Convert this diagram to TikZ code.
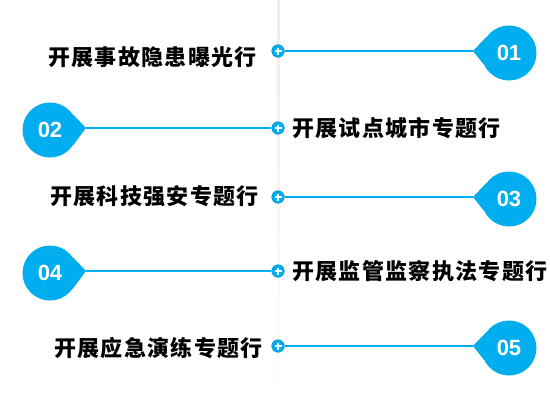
\documentclass[tikz,border=0pt]{standalone}
\usepackage{fontspec}
\setmainfont{Liberation Sans}
\newfontfamily\cjk{Noto Sans CJK SC}[LetterSpace=6]
\usepackage{tikz}
\usetikzlibrary{calc}
\definecolor{SkyCyan}{RGB}{0,174,239}

\begin{document}
\begin{tikzpicture}[x=1pt,y=-1pt,
  num/.style={circle,fill=SkyCyan,minimum size=55pt,inner sep=0pt,
              text=white,font=\fontsize{22}{22}\selectfont\bfseries},
  item/.style={font=\cjk\fontsize{22}{22}\selectfont\bfseries,inner sep=0pt},
  dot/.style={circle,fill=SkyCyan,draw=SkyCyan!85!black,line width=0.6pt,
              minimum size=12.5pt,inner sep=0pt,
              path picture={\draw[white,line width=1.6pt]
                ($(path picture bounding box.center)+(-3.5,0)$) -- ($(path picture bounding box.center)+(3.5,0)$)
                ($(path picture bounding box.center)+(0,-3.5)$) -- ($(path picture bounding box.center)+(0,3.5)$);}},
  link/.style={SkyCyan,line width=1.6pt},
]
\fill[white] (0,0) rectangle (550,413);
\useasboundingbox (0,0) rectangle (550,413);

% centre line
\shade[top color=gray!15,middle color=gray!85!black,bottom color=white] (277,0) rectangle (279.5,413);

% numbered circles and their tips
\coordinate (k1) at (473,51);
\coordinate (k2) at (86,128);
\coordinate (k3) at (473,197);
\coordinate (k4) at (86,271);
\coordinate (k5) at (473,346);

\node[dot] (d1) at (278,51) {};
\node[dot] (d2) at (278,128) {};
\node[dot] (d3) at (278,197) {};
\node[dot] (d4) at (278,271) {};
\node[dot] (d5) at (278,346) {};

\draw[link] (d1) -- (k1);
\draw[link] (k2) -- (d2);
\draw[link] (d3) -- (k3);
\draw[link] (k4) -- (d4);
\draw[link] (d5) -- (k5);

\node[num] (c1) at (509,53) {01};
\node[num] (c2) at (50,130) {02};
\node[num] (c3) at (509,199) {03};
\node[num] (c4) at (50,273) {04};
\node[num] (c5) at (509,348) {05};

\fill[SkyCyan] (c1.145) -- (k1) -- (c1.205) -- cycle;
\fill[SkyCyan] (c2.35) -- (k2) -- (c2.325) -- cycle;
\fill[SkyCyan] (c3.145) -- (k3) -- (c3.205) -- cycle;
\fill[SkyCyan] (c4.35) -- (k4) -- (c4.325) -- cycle;
\fill[SkyCyan] (c5.145) -- (k5) -- (c5.205) -- cycle;

% texts
\node[item,anchor=east] (t1) at (257,57) {开展事故隐患曝光行};
\node[item,anchor=west] (t2) at (292,128) {开展试点城市专题行};
\node[item,anchor=east] (t3) at (259,196) {开展科技强安专题行};
\node[item,anchor=west] (t4) at (292,271) {开展监管监察执法专题行};
\node[item,anchor=east] (t5) at (263,348) {开展应急演练专题行};
\end{tikzpicture}
\end{document}
